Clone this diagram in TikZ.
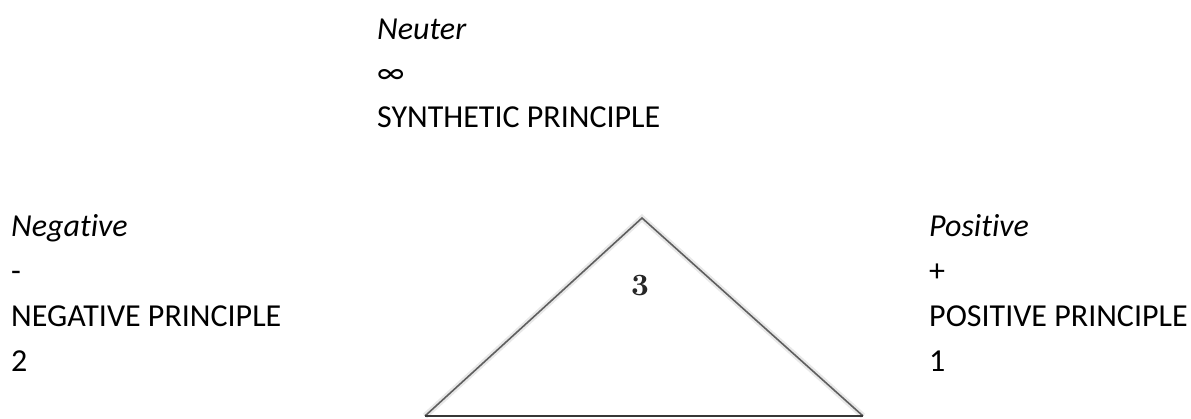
\documentclass[tikz,border=0pt]{standalone}
\usepackage{fontspec}
\setmainfont{Carlito}[Ligatures=NoCommon]
\newfontfamily\lmrdigit{lmroman10-bold}[Extension=.otf]
\definecolor{sidegray}{RGB}{95,95,95}
\definecolor{basegray}{RGB}{55,55,55}
\definecolor{halogray}{RGB}{232,232,232}
\begin{document}
\begin{tikzpicture}[x=1pt,y=-1pt,
  lbl/.style={anchor=base west, inner sep=0pt, font=\fontsize{32}{36}\selectfont},
  ilbl/.style={lbl, font=\fontsize{32}{36}\selectfont\itshape},
  halo/.style={draw=halogray, line width=6pt},
  side/.style={draw=sidegray, line width=1.6pt},
  baseline/.style={draw=basegray, line width=2.4pt},
  numlbl/.style={inner sep=0pt, text=black!85, font=\fontsize{31}{31}\selectfont\lmrdigit}]
\useasboundingbox (0,0) rectangle (1191,419);
\fill[white] (0,0) rectangle (1191,419);
% top block
\node[ilbl] (neuter) at (377,40) {Neuter};
\node[lbl] (inf) at (377,84) {∞};
\node[lbl] (synth) at (377,128) {SYNTHETIC PRINCIPLE};
% left block
\node[ilbl] (neg) at (11,237) {Negative};
\node[lbl] (minus) at (11,282) {-};
\node[lbl] (negp) at (11,327) {NEGATIVE PRINCIPLE};
\node[lbl] (two) at (11,372) {2};
% right block
\node[ilbl] (pos) at (929,237) {Positive};
\node[lbl] (plus) at (929,282) {+};
\node[lbl] (posp) at (929,327) {POSITIVE PRINCIPLE};
\node[lbl] (one) at (929,372) {1};
% triangle
\coordinate (apex) at (642,218);
\coordinate (bl) at (425,416);
\coordinate (br) at (863,416);
\draw[halo] (bl) -- (apex) -- (br);
\draw[side, line join=miter] (bl) -- (apex) -- (br);
\draw[baseline] (bl) -- (br);
\node[numlbl] (three) at (640,286) {3};
\end{tikzpicture}
\end{document}
